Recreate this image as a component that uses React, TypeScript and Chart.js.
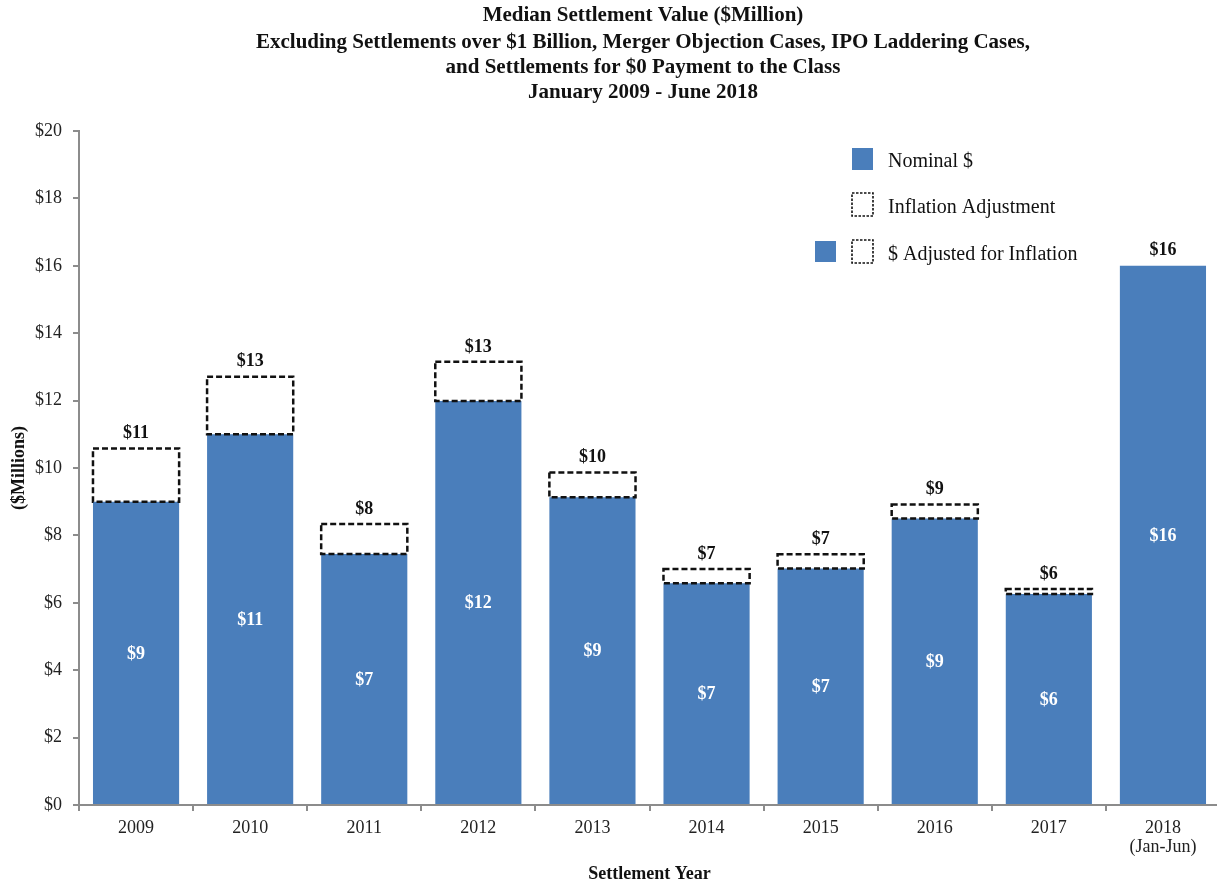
import React, { useEffect, useRef } from 'react';
import { Chart, registerables } from 'chart.js';

Chart.register(...registerables);

const categories: (string | string[])[] = ['2009', '2010', '2011', '2012', '2013', '2014', '2015', '2016', '2017', ['2018', '(Jan-Jun)']];
const nominal = [9.0, 11.0, 7.45, 11.99, 9.13, 6.58, 7.02, 8.5, 6.26, 16.0];
const adjusted = [10.58, 12.71, 8.34, 13.15, 9.87, 7.0, 7.44, 8.92, 6.41, 16.0];
const nominalLabels = ['$9', '$11', '$7', '$12', '$9', '$7', '$7', '$9', '$6', '$16'];
const adjustedLabels = ['$11', '$13', '$8', '$13', '$10', '$7', '$7', '$9', '$6', '$16'];
const titleLines = [
  'Median Settlement Value ($Million)',
  'Excluding Settlements over $1 Billion, Merger Objection Cases, IPO Laddering Cases,',
  'and Settlements for $0 Payment to the Class',
  'January 2009 - June 2018',
];
const legendLabels = ['Nominal $', 'Inflation Adjustment', '$ Adjusted for Inflation'];
const yAxisTitle = '($Millions)';
const xAxisTitle = 'Settlement Year';

const BLUE = '#4A7EBB';
const SERIF = '"Liberation Serif", "Times New Roman", serif';

const inflationAdj = adjusted.map((v, i) => Math.max(0, +(v - nominal[i]).toFixed(2)));

const overlayPlugin = {
  id: 'overlay',
  beforeDraw(chart: any) {
    const { ctx } = chart;
    ctx.save();
    ctx.fillStyle = '#111';
    ctx.font = `bold 21px ${SERIF}`;
    ctx.textAlign = 'center';
    ctx.textBaseline = 'middle';
    const cx = 643;
    const ys = [16, 43, 68, 93];
    titleLines.forEach((t, i) => ctx.fillText(t, cx, ys[i]));
    ctx.restore();
  },
  afterDatasetsDraw(chart: any) {
    const { ctx, chartArea } = chart;
    const metaNom = chart.getDatasetMeta(0);
    const metaAdj = chart.getDatasetMeta(1);
    ctx.save();
    // dashed inflation boxes
    ctx.setLineDash([6, 3]);
    ctx.lineWidth = 2.5;
    ctx.strokeStyle = '#111';
    metaAdj.data.forEach((bar: any) => {
      const { x, y, base, width } = bar.getProps(['x', 'y', 'base', 'width'], true);
      if (Math.abs(base - y) < 0.5) return;
      ctx.strokeRect(x - width / 2, y, width, base - y);
    });
    ctx.setLineDash([]);
    // labels
    ctx.font = `bold 18px ${SERIF}`;
    ctx.textAlign = 'center';
    ctx.textBaseline = 'middle';
    metaNom.data.forEach((bar: any, i: number) => {
      const { x, y, base } = bar.getProps(['x', 'y', 'base'], true);
      ctx.fillStyle = '#ffffff';
      ctx.fillText(nominalLabels[i], x, (y + base) / 2 + 1);
      const top = Math.min(y, metaAdj.data[i].y);
      ctx.fillStyle = '#111';
      ctx.fillText(adjustedLabels[i], x, top - 15);
    });
    // legend
    const lx = 852;
    const ly = chartArea.top + 17;
    const sq = 21;
    const rows = [0, 46, 93];
    ctx.font = `20px ${SERIF}`;
    ctx.textAlign = 'left';
    const dashedBox = (x: number, y: number) => {
      ctx.save();
      ctx.setLineDash([2.5, 1.5]);
      ctx.lineWidth = 1.6;
      ctx.strokeStyle = '#111';
      ctx.strokeRect(x, y, sq, sq + 2);
      ctx.restore();
    };
    ctx.fillStyle = BLUE;
    ctx.fillRect(lx, ly + rows[0], sq, sq + 1);
    dashedBox(lx, ly + rows[1] - 1);
    ctx.fillStyle = BLUE;
    ctx.fillRect(lx - 37, ly + rows[2], sq, sq);
    dashedBox(lx, ly + rows[2] - 1);
    ctx.fillStyle = '#111';
    legendLabels.forEach((t, i) => ctx.fillText(t, lx + 36, ly + rows[i] + sq / 2 + 3));
    ctx.restore();
  },
};

export default function App() {
  const ref = useRef<HTMLCanvasElement | null>(null);
  useEffect(() => {
    document.body.style.margin = '0';
    if (!ref.current) return;
    const chart = new Chart(ref.current, {
      type: 'bar',
      data: {
        labels: categories as any,
        datasets: [
          {
            label: 'Nominal $',
            data: nominal,
            backgroundColor: BLUE,
            borderWidth: 0,
            barPercentage: 0.755,
            categoryPercentage: 1,
          },
          {
            label: 'Inflation Adjustment',
            data: inflationAdj,
            backgroundColor: 'rgba(0,0,0,0)',
            borderWidth: 0,
            barPercentage: 0.755,
            categoryPercentage: 1,
          },
        ],
      },
      options: {
        responsive: false,
        animation: false,
        layout: { padding: { top: 131, right: 2, left: 0, bottom: 0 } },
        plugins: {
          legend: { display: false },
          title: { display: false },
          tooltip: { enabled: false },
        },
        scales: {
          x: {
            stacked: true,
            border: { color: '#8c8c8c', width: 2 },
            grid: { drawOnChartArea: false, drawTicks: true, tickLength: 6, color: '#8c8c8c', lineWidth: 2 },
            ticks: { color: '#222', font: { family: SERIF, size: 18, lineHeight: 1.05 }, padding: 8, maxRotation: 0 },
            title: { display: true, text: xAxisTitle, color: '#111', font: { family: SERIF, size: 18, weight: 'bold', lineHeight: 1 }, padding: { top: 0, bottom: 0 } },
            afterFit: (s: any) => { s.height = 78; },
          },
          y: {
            stacked: true,
            min: 0,
            max: 20,
            border: { color: '#8c8c8c', width: 2 },
            grid: { drawOnChartArea: false, drawTicks: true, tickLength: 6, color: '#8c8c8c', lineWidth: 2 },
            ticks: { stepSize: 2, color: '#222', font: { family: SERIF, size: 18 }, padding: 11, callback: (v: any) => '$' + v },
            title: { display: true, text: yAxisTitle, color: '#111', font: { family: SERIF, size: 18, weight: 'bold', lineHeight: 1.2 }, padding: { top: 9, bottom: 0 } },
            afterFit: (s: any) => { s.width = 79; },
          },
        },
      },
      plugins: [overlayPlugin],
    });
    return () => chart.destroy();
  }, []);
  return (
    <div style={{ width: 1217, height: 883, overflow: 'hidden', position: 'relative' }}>
      <canvas ref={ref} width={1222} height={883} style={{ display: 'block' }} />
    </div>
  );
}
